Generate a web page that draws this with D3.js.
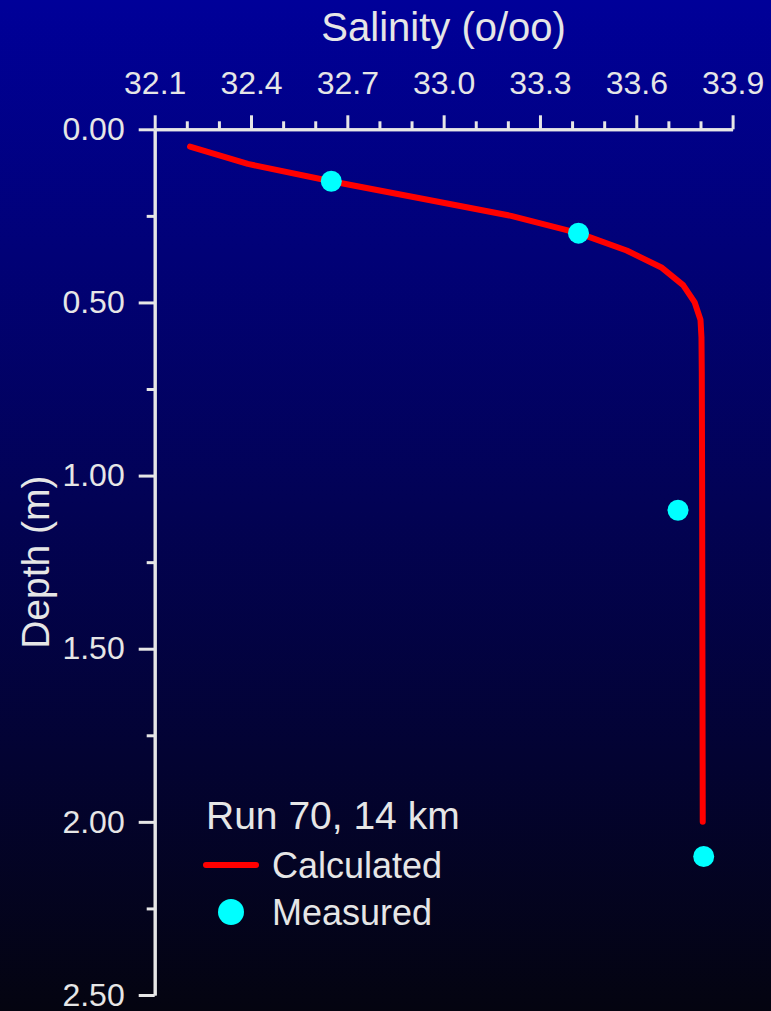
<!DOCTYPE html>
<html lang="en">
<head>
<meta charset="UTF-8">
<title>Salinity profile</title>
<script src="https://cdn.jsdelivr.net/npm/d3@7"></script>
<style>
  body { margin: 0; background: #000; }
  text { font-family: "Liberation Sans", Arial, Helvetica, sans-serif; fill: #e6e6e6; }
  g.axis path.domain, g.axis line { stroke: #e6e6e6; stroke-width: 3px; }
  g.axis text { font-size: 32px; fill: #e6e6e6; }
  path.calc { fill: none; stroke: #ff0000; stroke-width: 6px; stroke-linejoin: round; stroke-linecap: round; }
  circle.meas { fill: #00ffff; }
</style>
</head>
<body>
<svg width="771" height="1011"></svg>
<script>
// data
let calcDepth    = [0.05, 0.10, 0.15, 0.20, 0.25, 0.30, 0.35, 0.40, 0.45, 0.50, 0.55, 0.60, 0.70, 1.00, 1.50, 2.00];
let calcSalinity = [32.21, 32.39, 32.65, 32.93, 33.21, 33.42, 33.57, 33.68, 33.746, 33.782, 33.800, 33.803, 33.804, 33.805, 33.806, 33.807];

let measDepth    = [0.15, 0.30, 1.10, 2.10];
let measSalinity = [32.65, 33.42, 33.73, 33.81];

let xTicks = [32.1, 32.4, 32.7, 33.0, 33.3, 33.6, 33.9];
let yTicks = [0.0, 0.5, 1.0, 1.5, 2.0, 2.5];

let legendTitle = "Run 70, 14 km";
let seriesNames = ["Calculated", "Measured"];

let svg = d3.select('svg');

// background gradient
let grad = svg.append('defs').append('linearGradient')
  .attr('id', 'bg').attr('x1', 0).attr('y1', 0).attr('x2', 0).attr('y2', 1);
grad.append('stop').attr('offset', '0%').attr('stop-color', '#000099');
grad.append('stop').attr('offset', '100%').attr('stop-color', '#040410');
svg.append('rect').attr('width', 771).attr('height', 1011).attr('fill', 'url(#bg)');

// scales
let xScale = d3.scaleLinear().domain([32.1, 33.9]).range([154.7, 732.6]);
let yScale = d3.scaleLinear().domain([0, 2.5]).range([129.3, 995]);

// minor ticks
let xMinor = d3.range(32.1, 33.9001, 0.1).filter(v => !xTicks.some(t => Math.abs(t - v) < 1e-6));
let yMinor = [0.25, 0.75, 1.25, 1.75, 2.25];

svg.append('g').attr('class', 'axis')
  .attr('transform', `translate(0,${yScale(0)})`)
  .call(d3.axisTop(xScale).tickValues(xMinor).tickSize(8).tickSizeOuter(0).tickFormat(''));
svg.append('g').attr('class', 'axis')
  .attr('transform', `translate(${xScale(32.1)},0)`)
  .call(d3.axisLeft(yScale).tickValues(yMinor).tickSize(8).tickSizeOuter(0).tickFormat(''));

svg.append('g').attr('class', 'axis')
  .attr('transform', `translate(0,${yScale(0)})`)
  .call(d3.axisTop(xScale).tickValues(xTicks).tickSize(14).tickSizeOuter(0).tickPadding(21).tickFormat(d3.format('.1f')));
svg.append('g').attr('class', 'axis')
  .attr('transform', `translate(${xScale(32.1)},0)`)
  .call(d3.axisLeft(yScale).tickValues(yTicks).tickSize(16).tickSizeOuter(0).tickPadding(14).tickFormat(d3.format('.2f')));

svg.selectAll('g.axis text').attr('fill', '#e6e6e6');

// axis titles
svg.append('text')
  .attr('x', (xScale.range()[0] + xScale.range()[1]) / 2).attr('y', 41)
  .attr('text-anchor', 'middle').style('font-size', '40px')
  .text('Salinity (o/oo)');
svg.append('text')
  .attr('transform', `translate(49,${(yScale.range()[0] + yScale.range()[1]) / 2}) rotate(-90)`)
  .attr('text-anchor', 'middle').style('font-size', '39px')
  .text('Depth (m)');

// calculated line
let calc = calcDepth.map((d, i) => ({depth: d, sal: calcSalinity[i]}));
let line = d3.line().x(d => xScale(d.sal)).y(d => yScale(d.depth));
svg.append('path').datum(calc).attr('class', 'calc').attr('d', line);

// measured points
let meas = measDepth.map((d, i) => ({depth: d, sal: measSalinity[i]}));
svg.append('g').selectAll('circle').data(meas).join('circle')
  .attr('class', 'meas')
  .attr('cx', d => xScale(d.sal)).attr('cy', d => yScale(d.depth)).attr('r', 10.5);

// legend
let lg = svg.append('g');
lg.append('text').attr('x', 206).attr('y', 829).style('font-size', '39px').text(legendTitle);
lg.append('line').attr('x1', 206).attr('x2', 256).attr('y1', 865).attr('y2', 865)
  .attr('stroke', '#ff0000').attr('stroke-width', 6).attr('stroke-linecap', 'round');
lg.append('text').attr('x', 272).attr('y', 878).style('font-size', '36px').text(seriesNames[0]);
lg.append('circle').attr('cx', 231).attr('cy', 912).attr('r', 13).attr('fill', '#00ffff');
lg.append('text').attr('x', 272).attr('y', 925).style('font-size', '36px').text(seriesNames[1]);
</script>
</body>
</html>
